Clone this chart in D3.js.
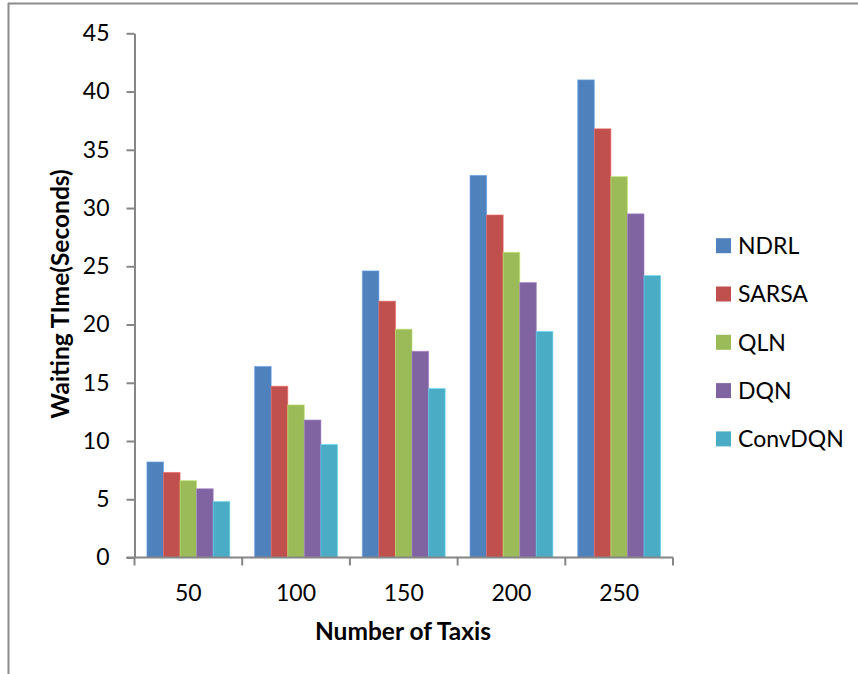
<!DOCTYPE html>
<html><head><meta charset="utf-8">
<script src="https://cdn.jsdelivr.net/npm/d3@7"></script>
<style>html,body{margin:0;padding:0;background:#fff;} svg{display:block;}</style>
</head><body>
<script>
const categories = ["50","100","150","200","250"];
const seriesNames = ["NDRL","SARSA","QLN","DQN","ConvDQN"];
const NDRL = [8.2, 16.4, 24.6, 32.8, 41.0];
const SARSA = [7.3, 14.7, 22.0, 29.4, 36.8];
const QLN = [6.6, 13.1, 19.6, 26.2, 32.7];
const DQN = [5.9, 11.8, 17.7, 23.6, 29.5];
const ConvDQN = [4.8, 9.7, 14.5, 19.4, 24.2];
const yTicks = [0,5,10,15,20,25,30,35,40,45];
const colors = ["#4F81BD","#C0504D","#9BBB59","#8064A2","#4BACC6"];
const seriesValues = [NDRL, SARSA, QLN, DQN, ConvDQN];

const W = 858, H = 674;
const font = "Lato, 'Open Sans', sans-serif";
const svg = d3.select("body").append("svg").attr("width", W).attr("height", H);

// outer border (left and top visible)
svg.append("line").attr("x1",8.5).attr("x2",8.5).attr("y1",3).attr("y2",H).attr("stroke","#8c8c8c").attr("stroke-width",2);
svg.append("line").attr("x1",8).attr("x2",W).attr("y1",3.5).attr("y2",3.5).attr("stroke","#8c8c8c").attr("stroke-width",2);

const x0 = 134.5, x1 = 673, yTop = 33.3, yBot = 557.5;
const x = d3.scaleBand().domain(categories).range([x0, x1]).paddingInner(0).paddingOuter(0);
const gapRatio = 1.5;
const barW = x.bandwidth() / (seriesNames.length + gapRatio);
const xs = d3.scaleBand().domain(seriesNames).range([barW*gapRatio/2, x.bandwidth() - barW*gapRatio/2]).padding(0);
const y = d3.scaleLinear().domain([0,45]).range([yBot, yTop]);

// bars
seriesNames.forEach((s, si) => {
  svg.append("g").selectAll("rect").data(categories).join("rect")
    .attr("x", c => x(c) + xs(s))
    .attr("y", (c,i) => y(seriesValues[si][i]))
    .attr("width", xs.bandwidth())
    .attr("height", (c,i) => yBot - y(seriesValues[si][i]))
    .attr("fill", colors[si])
    .attr("stroke", d3.color(colors[si]).brighter(0.6))
    .attr("stroke-opacity", 0.6)
    .attr("stroke-width", 1);
});

const axisColor = "#868686";
// y axis
const yAxis = svg.append("g").attr("transform", `translate(${x0},0)`)
  .call(d3.axisLeft(y).tickValues(yTicks).tickSize(8).tickPadding(17).tickSizeOuter(0));
yAxis.select(".domain").attr("stroke", axisColor).attr("stroke-width", 2);
yAxis.selectAll(".tick line").attr("stroke", axisColor).attr("stroke-width", 2);
yAxis.selectAll(".tick text").attr("font-family", font).attr("font-size", 23).attr("fill", "#000");

// x axis
const xAxisG = svg.append("g").attr("transform", `translate(0,${yBot})`);
xAxisG.append("line").attr("x1", x0 - 8).attr("x2", x1).attr("y1", 0).attr("y2", 0).attr("stroke", axisColor).attr("stroke-width", 2);
const bounds = categories.map(c => x(c)).concat([x1]);
xAxisG.selectAll("line.tk").data(bounds).join("line").attr("class","tk")
  .attr("x1", d => d).attr("x2", d => d).attr("y1", 0).attr("y2", 8)
  .attr("stroke", axisColor).attr("stroke-width", 2);
xAxisG.selectAll("text").data(categories).join("text")
  .attr("x", c => x(c) + x.bandwidth()/2).attr("y", 43.5)
  .attr("text-anchor","middle").attr("font-family", font).attr("font-size", 23).text(c => c);

// axis titles
svg.append("text").attr("x", 403).attr("y", 640).attr("text-anchor","middle")
  .attr("font-family", font).attr("font-weight","bold").attr("font-size", 24.5).text("Number of Taxis");
svg.append("text").attr("transform", "translate(69,294) rotate(-90)").attr("text-anchor","middle")
  .attr("font-family", font).attr("font-weight","bold").attr("font-size", 24.5).text("Waiting TIme(Seconds)");

// legend
const legendY0 = 245.7, legendStep = 48.3;
const lg = svg.append("g");
seriesNames.forEach((s, i) => {
  const cy = legendY0 + i*legendStep;
  lg.append("rect").attr("x", 716).attr("y", cy - 7.5).attr("width", 15).attr("height", 15).attr("fill", colors[i]);
  lg.append("text").attr("x", 738).attr("y", cy).attr("dy","0.36em").attr("font-family", font).attr("font-size", 23).text(s);
});
</script>
</body></html>
